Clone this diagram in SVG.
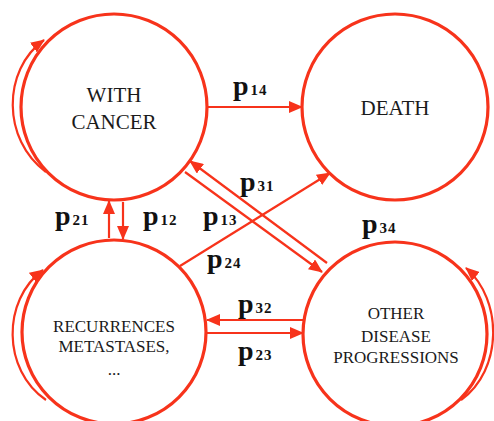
<svg xmlns="http://www.w3.org/2000/svg" width="494" height="421" viewBox="0 0 494 421">
<style>
.node{fill:#fff;stroke:#F7331B;stroke-width:3.2}
.edge{fill:none;stroke:#F7331B;stroke-width:2.2}
.t{font-family:"Liberation Serif","DejaVu Serif","Times New Roman",serif;fill:#1a1a1a;text-anchor:middle}
.lbl{font-family:"Liberation Serif","DejaVu Serif","Times New Roman",serif;fill:#111;font-weight:bold}
.p{font-size:28px}
.d{font-size:15px;letter-spacing:1px}
</style>
<defs>
<marker id="ah" markerUnits="userSpaceOnUse" markerWidth="14" markerHeight="12" refX="13" refY="6" orient="auto">
<path d="M0,0 L14,6 L0,12 z" fill="#F7331B"/>
</marker>
</defs>
<rect width="494" height="421" fill="#fff"/>
<g id="connectors">
<path class="edge" d="M46,172 C2,140 2,70 44,40" marker-end="url(#ah)"/>
<path class="edge" d="M46,400 C2,370 2,300 43,270" marker-end="url(#ah)"/>
<path class="edge" d="M461,400 C503,370 503,300 466,268" marker-end="url(#ah)"/>
<path class="edge" d="M207,107 L302,107" marker-end="url(#ah)"/>
<path class="edge" d="M109,238 L109,201" marker-end="url(#ah)"/>
<path class="edge" d="M123,202 L123,239" marker-end="url(#ah)"/>
<path class="edge" d="M185,172 L322,272" marker-end="url(#ah)"/>
<path class="edge" d="M327,263 L190,161" marker-end="url(#ah)"/>
<path class="edge" d="M180,266 L330,173" marker-end="url(#ah)"/>
<path class="edge" d="M303,320 L207,320" marker-end="url(#ah)"/>
<path class="edge" d="M207,333 L303,333" marker-end="url(#ah)"/>
</g>
<g id="with_cancer">
<circle class="node" cx="114" cy="107" r="93"/>
<text class="t" font-size="21" x="114" y="102">WITH</text>
<text class="t" font-size="21" x="114" y="129">CANCER</text>
</g>
<g id="death">
<circle class="node" cx="395" cy="107" r="93"/>
<text class="t" font-size="21" x="395" y="115">DEATH</text>
</g>
<g id="recurrences">
<circle class="node" cx="114" cy="332" r="92"/>
<text class="t" font-size="17" x="114" y="332">RECURRENCES</text>
<text class="t" font-size="17" x="114" y="352">METASTASES,</text>
<text class="t" font-size="17" x="114" y="375">...</text>
</g>
<g id="other">
<circle class="node" cx="395" cy="334" r="92"/>
<text class="t" font-size="17" x="396" y="319">OTHER</text>
<text class="t" font-size="17" x="396" y="342">DISEASE</text>
<text class="t" font-size="17" x="396" y="363">PROGRESSIONS</text>
</g>
<g id="labels">
<text class="lbl" x="233" y="95"><tspan class="p">p</tspan><tspan class="d" dx="2">14</tspan></text>
<text class="lbl" x="55" y="225"><tspan class="p">p</tspan><tspan class="d" dx="2">21</tspan></text>
<text class="lbl" x="143" y="225"><tspan class="p">p</tspan><tspan class="d" dx="2">12</tspan></text>
<text class="lbl" x="240" y="191"><tspan class="p">p</tspan><tspan class="d" dx="2">31</tspan></text>
<text class="lbl" x="203" y="225"><tspan class="p">p</tspan><tspan class="d" dx="2">13</tspan></text>
<text class="lbl" x="207" y="268"><tspan class="p">p</tspan><tspan class="d" dx="2">24</tspan></text>
<text class="lbl" x="362" y="233"><tspan class="p">p</tspan><tspan class="d" dx="2">34</tspan></text>
<text class="lbl" x="238" y="313"><tspan class="p">p</tspan><tspan class="d" dx="2">32</tspan></text>
<text class="lbl" x="238" y="360"><tspan class="p">p</tspan><tspan class="d" dx="2">23</tspan></text>
</g>
</svg>
